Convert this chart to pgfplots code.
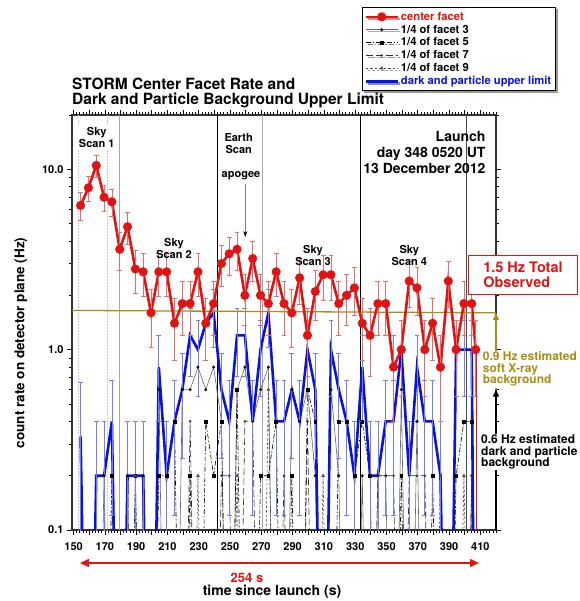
\documentclass[border=0pt]{standalone}
\usepackage{fontspec}
\setmainfont{TeX Gyre Heros}
\usepackage{pgfplots}
\usepackage{pgfplotstable}
\pgfplotsset{compat=1.18}
\usetikzlibrary{arrows.meta,shadows}

\definecolor{cred}{RGB}{225,20,20}
\definecolor{cblue}{RGB}{10,20,215}
\definecolor{ebred}{RGB}{228,110,110}
\definecolor{ebblue}{RGB}{120,125,228}
\definecolor{xray}{RGB}{172,140,20}

% t: time, r/er: center facet and error, b/bp/bm: dark+particle limit and errors,
% f3..f9: 1/4 of outer facets; 0.001 = zero counts
\pgfplotstableread{
t     r    er    b     bp    bm     f3    f5    f7    f9
154.5 6.3  1.12  0.33  0.33  0.329  0.001 0.001 0.001 0.001
159.5 7.9  1.26  0.001 0     0      0.001 0.001 0.001 0.001
164.5 10.5 1.45  0.2   0.2   0.199  0.001 0.001 0.001 0.001
169.5 7.0  1.18  0.2   0.2   0.199  0.2   0.001 0.001 0.001
174.5 6.6  1.15  0.4   0.28  0.28   0.001 0.2   0.001 0.001
179.5 3.6  0.85  0.001 0     0      0.001 0.001 0.001 0.001
184.5 4.8  0.98  0.2   0.2   0.199  0.2   0.001 0.001 0.001
189.5 2.8  0.75  0.2   0.2   0.199  0.001 0.2   0.001 0.2
194.5 2.7  0.73  0.2   0.2   0.199  0.2   0.001 0.001 0.001
199.5 1.6  0.57  0.001 0     0      0.001 0.001 0.001 0.001
204.5 2.7  0.73  0.8   0.4   0.4    0.6   0.2   0.001 0.001
209.5 2.7  0.73  0.2   0.2   0.199  0.001 0.2   0.001 0.001
214.5 1.4  0.53  0.4   0.28  0.28   0.001 0.4   0.001 0.001
219.5 1.8  0.6   0.6   0.35  0.35   0.6   0.001 0.001 0.001
224.5 1.8  0.6   1.2   0.49  0.49   0.6   0.2   0.4   0.001
229.5 2.7  0.73  1.0   0.45  0.45   0.8   0.001 0.001 0.2
234.5 1.4  0.53  1.4   0.53  0.53   0.6   0.4   0.001 0.001
239.5 1.8  0.6   1.6   0.57  0.57   0.8   0.2   0.001 0.001
244.5 3.0  0.77  0.6   0.35  0.35   0.4   0.4   0.2   0.001
249.5 3.4  0.82  0.4   0.28  0.28   0.001 0.001 0.2   0.001
254.5 3.6  0.85  1.2   0.49  0.49   0.6   0.6   0.001 0.2
259.5 2.0  0.63  1.2   0.49  0.49   0.8   0.001 0.4   0.001
264.5 3.2  0.8   0.4   0.28  0.28   0.4   0.001 0.4   0.001
269.5 2.0  0.63  1.0   0.45  0.45   0.6   0.2   0.001 0.001
274.5 1.8  0.6   1.6   0.57  0.57   0.8   0.2   0.001 0.6
279.5 2.7  0.73  0.4   0.28  0.28   0.001 0.4   0.001 0.001
284.5 1.8  0.6   0.4   0.28  0.28   0.001 0.001 0.2   0.001
289.5 1.6  0.57  0.6   0.35  0.35   0.6   0.2   0.001 0.001
294.5 2.5  0.71  0.4   0.28  0.28   0.4   0.001 0.001 0.001
299.5 1.2  0.49  1.0   0.45  0.45   0.6   0.6   0.4   0.001
304.5 2.1  0.65  0.6   0.35  0.35   0.2   0.4   0.001 0.001
309.5 2.6  0.72  0.001 0     0      0.001 0.001 0.001 0.2
314.5 2.6  0.72  1.0   0.45  0.45   0.6   0.001 0.001 0.001
319.5 1.8  0.6   0.6   0.35  0.35   0.2   0.4   0.001 0.001
324.5 2.0  0.63  0.4   0.28  0.28   0.001 0.4   0.001 0.001
329.5 2.2  0.66  0.2   0.2   0.199  0.001 0.2   0.001 0.001
334.5 1.4  0.53  0.8   0.4   0.4    0.2   0.4   0.001 0.001
339.5 1.2  0.49  0.2   0.2   0.199  0.001 0.2   0.001 0.001
344.5 1.8  0.6   0.2   0.2   0.199  0.2   0.001 0.2   0.001
349.5 1.8  0.6   0.4   0.28  0.28   0.2   0.001 0.2   0.001
354.5 0.8  0.4   0.4   0.28  0.28   0.001 0.001 0.2   0.001
359.5 1.0  0.45  1.0   0.45  0.45   0.6   0.2   0.001 0.001
364.5 2.4  0.69  0.2   0.2   0.199  0.001 0.001 0.2   0.001
369.5 2.2  0.66  0.8   0.4   0.4    0.4   0.001 0.2   0.001
374.5 1.0  0.45  0.4   0.28  0.28   0.001 0.001 0.2   0.001
379.5 1.4  0.53  0.4   0.28  0.28   0.001 0.2   0.001 0.001
384.5 0.8  0.4   0.2   0.2   0.199  0.001 0.001 0.001 0.2
389.5 2.4  0.69  0.001 0     0      0.001 0.001 0.001 0.001
394.5 1.0  0.45  1.0   0.45  0.45   0.001 0.2   0.001 0.001
399.5 1.8  0.6   1.0   0.45  0.45   0.001 0.4   0.001 0.2
404.5 1.8  0.6   1.0   0.45  0.45   0.2   0.4   0.2   0.001
407.0 1.0  0.45  0.001 0     0      0.001 0.001 0.001 0.001
}\storm

\begin{document}
\begin{tikzpicture}[font=\bfseries]
\useasboundingbox (-72pt,-71pt) rectangle (507pt,530pt);
\begin{axis}[
  at={(0pt,0pt)}, anchor=south west,
  width=424pt, height=415pt, scale only axis,
  xmin=149, xmax=420,
  ymode=log, ymin=0.1, ymax=20,
  xtick={150,160,...,410},
  xticklabels={150,,170,,190,,210,,230,,250,,270,,290,,310,,330,,350,,370,,390,,410},
  minor xtick={150,152,...,420},
  ytick={0.1,1,10},
  yticklabels={0.1,1.0,10.0},
  minor ytick={0.2,0.3,0.4,0.5,0.6,0.7,0.8,0.9,2,3,4,5,6,7,8,9,20},
  tick align=outside,
  major tick length=5pt, minor tick length=3pt,
  tick style={black, line width=0.7pt},
  axis line style={black!80, line width=1.1pt},
  /pgf/number format/assume math mode=true,
  ticklabel style={font=\bfseries\fontsize{11}{12}\selectfont},
  xticklabel style={yshift=-4pt},
  legend style={at={(0.683,1.260)}, anchor=north west, draw=black, line width=0.8pt,
    fill=white, drop shadow={shadow xshift=2pt, shadow yshift=-2pt, fill=black!80},
    font=\bfseries\fontsize{11.2}{12}\selectfont, row sep=-0.8pt, inner sep=2.5pt},
  legend cell align=left,
  legend image code/.code={\draw[mark repeat=2,mark phase=2] plot coordinates {(0cm,0cm) (0.56cm,0cm) (1.12cm,0cm)};},
]
\addlegendimage{cred, line width=2.6pt, mark=*, mark size=3.2pt}
\addlegendentry{\textcolor{cred}{center facet}}
\addlegendimage{black!60, line width=0.6pt, mark=*, mark size=1.2pt, mark options={black}}
\addlegendentry{1/4 of facet 3}
\addlegendimage{black, line width=0.6pt, dash pattern=on 5pt off 2pt on 1.5pt off 2pt, mark=square*, mark size=1.4pt, mark options={solid}}
\addlegendentry{1/4 of facet 5}
\addlegendimage{black!80, line width=0.6pt, dash pattern=on 7pt off 3pt, mark=*, mark size=0.9pt, mark options={solid}}
\addlegendentry{1/4 of facet 7}
\addlegendimage{black!70, line width=0.6pt, dash pattern=on 2.5pt off 2pt, mark=triangle*, mark size=1.5pt, mark options={solid}}
\addlegendentry{1/4 of facet 9}
\addlegendimage{cblue, line width=2.6pt}
\addlegendentry{\textcolor{cblue}{dark and particle upper limit}}

% scan boundaries
\addplot[forget plot, gray!40, densely dotted, line width=0.5pt] coordinates {(153,0.1) (153,20)};
\addplot[forget plot, gray!40, densely dotted, line width=0.5pt] coordinates {(171.8,0.1) (171.8,20)};
\addplot[forget plot, gray!70, line width=1.2pt] coordinates {(179.2,0.1) (179.2,20)};
\addplot[forget plot, black, line width=0.6pt] coordinates {(241.7,0.1) (241.7,20)};
\addplot[forget plot, gray!70, line width=1.2pt] coordinates {(270.9,0.1) (270.9,20)};
\addplot[forget plot, black, line width=0.6pt] coordinates {(333.3,0.1) (333.3,20)};
\addplot[forget plot, black!70, line width=0.9pt] coordinates {(401,0.1) (401,20)};

% 1/4 of outer facets
\addplot[forget plot, black!60, line width=0.6pt, mark=*, mark size=1.2pt, mark options={black}] table[x=t, y=f3] {\storm};
\addplot[forget plot, black, line width=0.6pt, dash pattern=on 5pt off 2pt on 1.5pt off 2pt, mark=square*, mark size=1.4pt, mark options={solid}] table[x=t, y=f5] {\storm};
\addplot[forget plot, black!80, line width=0.6pt, dash pattern=on 7pt off 3pt, mark=*, mark size=0.9pt, mark options={solid}] table[x=t, y=f7] {\storm};
\addplot[forget plot, black!70, line width=0.6pt, dash pattern=on 2.5pt off 2pt, mark=triangle*, mark size=1.5pt, mark options={solid}] table[x=t, y=f9] {\storm};

% dark and particle upper limit
\addplot[forget plot, cblue, line width=2.6pt, mark=none,
  error bars/.cd, y dir=both, y explicit,
  error bar style={ebblue, line width=0.7pt},
  error mark options={rotate=90, mark size=2.4pt, ebblue, line width=0.7pt}]
  table[x=t, y=b, y error plus=bp, y error minus=bm] {\storm};

% soft X-ray level
\addplot[forget plot, xray, line width=1.3pt] coordinates {(149,1.65) (420,1.6)};

% center facet
\addplot[forget plot, cred, line width=0.6pt] coordinates {(407.6,1.0) (407.6,0.001)};
\addplot[forget plot, cred, line width=2.6pt, mark=*, mark size=3.2pt,
  error bars/.cd, y dir=both, y explicit,
  error bar style={ebred, line width=0.7pt},
  error mark options={rotate=90, mark size=2.4pt, ebred, line width=0.7pt}]
  table[x=t, y=r, y error=er] {\storm};
\end{axis}

% annotations (pt relative to the axis corner)
\begin{scope}[x=1pt, y=1pt]
\node[anchor=north west, align=left, font=\bfseries\fontsize{15.5}{15}\selectfont, inner sep=0pt]
  at (0,452) {STORM Center Facet Rate and\\Dark and Particle Background Upper Limit};
\node[align=center, font=\bfseries\fontsize{11}{12}\selectfont, fill=white, inner sep=1pt] at (24.7,392.5) {Sky\\Scan 1};
\node[align=center, font=\bfseries\fontsize{11}{12}\selectfont, fill=white, inner sep=1pt] at (166.7,386.7) {Earth\\Scan};
\node[font=\bfseries\fontsize{11}{12}\selectfont, fill=white, inner sep=1pt] at (169,354) {apogee};
\draw[gray, line width=0.5pt, -{Stealth[black, length=6pt, width=4pt]}] (173.3,346) -- (173.3,293);
\node[align=center, font=\bfseries\fontsize{11}{12}\selectfont] at (102,282) {Sky\\Scan 2};
\node[align=center, font=\bfseries\fontsize{11}{12}\selectfont] at (241,275) {Sky\\Scan 3};
\node[align=center, font=\bfseries\fontsize{11}{12}\selectfont] at (337.3,274.5) {Sky\\Scan 4};
\node[anchor=east, align=right, font=\bfseries\fontsize{14}{16}\selectfont, inner sep=0pt]
  at (413.7,378) {Launch\\day 348 0520 UT\\13 December 2012};
\node[draw=cred, line width=0.9pt, fill=white, text=cred, align=left, inner sep=3pt,
  font=\bfseries\fontsize{14.5}{15}\selectfont, minimum width=109pt, minimum height=39pt]
  at (451,254.7) {1.5 Hz Total\\Observed};
\draw[xray, line width=1.2pt, -{Triangle[length=7pt, width=6pt]}] (424,140.3) -- (424,217);
\draw[black, line width=1.2pt, -{Triangle[length=7pt, width=6pt]}] (424,0) -- (424,140.3);
\node[anchor=west, align=left, text=xray, fill=white, inner sep=1pt,
  font=\bfseries\fontsize{12}{11.5}\selectfont] at (409.7,160.7) {0.9 Hz estimated\\soft X-ray\\background};
\node[anchor=west, align=left, fill=white, inner sep=1pt,
  font=\bfseries\fontsize{12}{11.5}\selectfont] at (408,78) {0.6 Hz estimated\\dark and particle\\background};
\draw[cred, line width=1.5pt, {Triangle[length=9pt, width=8pt]}-{Triangle[length=9pt, width=8pt]}] (8,-33) -- (407,-33);
\node[text=cred, font=\bfseries\fontsize{13}{13}\selectfont] at (175,-48) {254 s};
\node[font=\bfseries\fontsize{14}{14}\selectfont] at (200,-62) {time since launch (s)};
\node[rotate=90, font=\bfseries\fontsize{13.5}{14}\selectfont] at (-51,187) {count rate on detector plane (Hz)};
\end{scope}
\end{tikzpicture}
\end{document}
